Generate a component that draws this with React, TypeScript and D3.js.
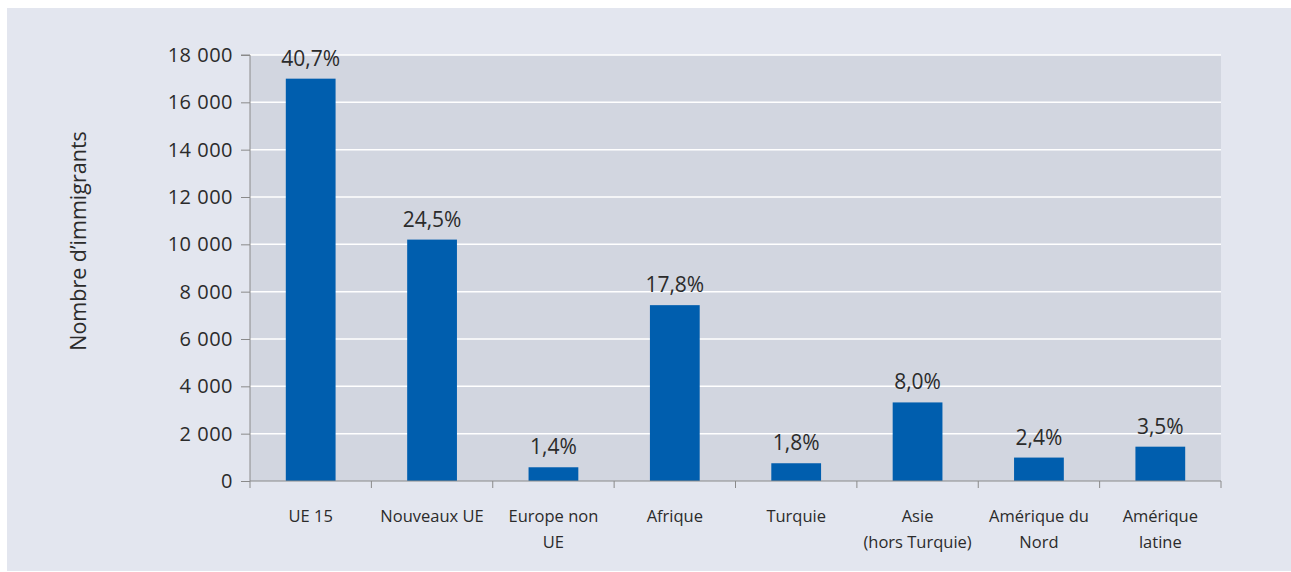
import { useEffect, useRef } from "react";
import * as d3 from "d3";

const categories = [
  "UE 15",
  "Nouveaux UE",
  "Europe non UE",
  "Afrique",
  "Turquie",
  "Asie (hors Turquie)",
  "Amérique du Nord",
  "Amérique latine",
];
const categoryLines = [
  ["UE 15"],
  ["Nouveaux UE"],
  ["Europe non", "UE"],
  ["Afrique"],
  ["Turquie"],
  ["Asie", "(hors Turquie)"],
  ["Amérique du", "Nord"],
  ["Amérique", "latine"],
];
const immigrants = [17000, 10200, 580, 7430, 750, 3320, 990, 1450];
const shares = ["40,7%", "24,5%", "1,4%", "17,8%", "1,8%", "8,0%", "2,4%", "3,5%"];
const yTicks = [0, 2000, 4000, 6000, 8000, 10000, 12000, 14000, 16000, 18000];

const W = 1291;
const H = 572;
const FONT = "'Open Sans', 'Noto Sans', sans-serif";

export default function App() {
  const ref = useRef<SVGSVGElement>(null);

  useEffect(() => {
    document.body.style.margin = "0";
    const svg = d3.select(ref.current);
    svg.selectAll("*").remove();

    const left = 250;
    const right = 1221;
    const top = 55;
    const bottom = 481;

    // outer panel
    svg.append("rect").attr("x", 7).attr("y", 8).attr("width", W - 7).attr("height", 563).attr("fill", "#e3e6ef");

    const x = d3.scaleBand().domain(categories).range([left, right]).paddingInner(0.59).paddingOuter(0.295);
    const y = d3.scaleLinear().domain([0, 18000]).range([bottom, top]);

    svg
      .append("rect")
      .attr("x", left)
      .attr("y", top)
      .attr("width", right - left)
      .attr("height", bottom - top)
      .attr("fill", "#d2d6e0");

    svg
      .append("g")
      .selectAll("line")
      .data(yTicks.slice(1))
      .enter()
      .append("line")
      .attr("x1", left)
      .attr("x2", right)
      .attr("y1", (d) => y(d))
      .attr("y2", (d) => y(d))
      .attr("stroke", "#ffffff")
      .attr("stroke-width", 1.5);

    svg
      .append("g")
      .selectAll("rect")
      .data(immigrants)
      .enter()
      .append("rect")
      .attr("x", (d, i) => x(categories[i])!)
      .attr("y", (d) => y(d))
      .attr("width", x.bandwidth())
      .attr("height", (d) => bottom - y(d))
      .attr("fill", "#005eae");

    svg
      .append("g")
      .selectAll("text")
      .data(immigrants)
      .enter()
      .append("text")
      .attr("x", (d, i) => x(categories[i])! + x.bandwidth() / 2)
      .attr("y", (d) => y(d) - 13)
      .attr("text-anchor", "middle")
      .style("font-family", FONT)
      .style("font-size", "21px")
      .attr("fill", "#2b2b2b")
      .text((d, i) => shares[i]);

    // y axis
    const yAxis = svg
      .append("g")
      .attr("transform", `translate(${left},0)`)
      .call(
        d3
          .axisLeft(y)
          .tickValues(yTicks)
          .tickSize(9)
          .tickPadding(8)
          .tickFormat((d) => d3.format(",")(d as number).replace(/,/g, " "))
      );
    yAxis.select(".domain").attr("stroke", "#8a8a8a").attr("d", `M-9,${top}H0V${bottom}`);
    yAxis.selectAll(".tick line").attr("stroke", "#8a8a8a");
    yAxis
      .selectAll(".tick text")
      .style("font-family", FONT)
      .style("font-size", "20px")
      .style("letter-spacing", "0.5px")
      .attr("fill", "#2b2b2b");

    // x axis
    const step = x.step();
    const boundaries = d3.range(categories.length + 1).map((i) => left + i * step);
    svg
      .append("line")
      .attr("x1", left)
      .attr("x2", right)
      .attr("y1", bottom)
      .attr("y2", bottom)
      .attr("stroke", "#8a8a8a");
    svg
      .append("g")
      .selectAll("line")
      .data(boundaries)
      .enter()
      .append("line")
      .attr("x1", (d) => d)
      .attr("x2", (d) => d)
      .attr("y1", bottom)
      .attr("y2", bottom + 7)
      .attr("stroke", "#8a8a8a");

    const labels = svg
      .append("g")
      .selectAll("text")
      .data(categoryLines)
      .enter()
      .append("text")
      .attr("x", (d, i) => x(categories[i])! + x.bandwidth() / 2)
      .attr("y", bottom + 41)
      .attr("text-anchor", "middle")
      .style("font-family", FONT)
      .style("font-size", "16.5px")
      .attr("fill", "#2b2b2b");
    labels
      .selectAll("tspan")
      .data((d) => d)
      .enter()
      .append("tspan")
      .attr("x", function () {
        return (this.parentNode as SVGTextElement).getAttribute("x");
      })
      .attr("dy", (d, i) => (i === 0 ? 0 : 26))
      .text((d) => d);

    svg
      .append("text")
      .attr("transform", `translate(86,241) rotate(-90)`)
      .attr("text-anchor", "middle")
      .style("font-family", FONT)
      .style("font-size", "21.5px")
      .attr("fill", "#2b2b2b")
      .text("Nombre d’immigrants");
  }, []);

  return <svg ref={ref} width={W} height={H} style={{ display: "block" }} />;
}
